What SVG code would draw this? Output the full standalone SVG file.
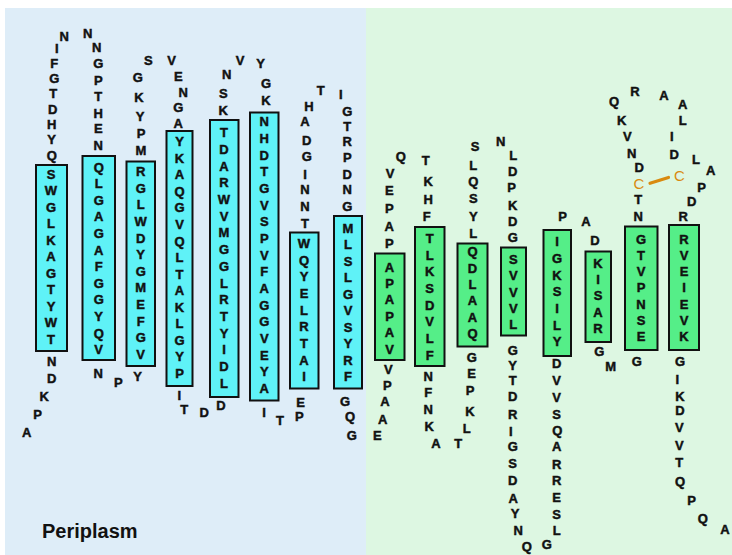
<svg xmlns="http://www.w3.org/2000/svg" width="732" height="555" viewBox="0 0 732 555">
  <style>
    .aa { font-family: "Liberation Sans", Arial, sans-serif; font-weight: bold; font-size: 13px; fill: #111; stroke: #111; stroke-width: 0.45; text-anchor: middle; dominant-baseline: central; }
    .cys { font-family: "Liberation Sans", Arial, sans-serif; font-size: 15px; fill: #d98a10; text-anchor: middle; dominant-baseline: central; }
    .tmb { fill: #5ff2f7; stroke: #111; stroke-width: 2; }
    .tmg { fill: #55ee88; stroke: #111; stroke-width: 2; }
    .label { font-family: "Liberation Sans", Arial, sans-serif; font-weight: bold; font-size: 20px; fill: #111; }
  </style>
  <rect x="0" y="0" width="732" height="555" fill="#ffffff"/>
  <rect x="5" y="8" width="361" height="547" fill="#deedf8"/>
  <rect x="366" y="8" width="366" height="547" fill="#ddf7e2"/>

  <!-- transmembrane helices -->
  <g id="tm1">
    <rect class="tmb" x="36" y="165" width="31" height="186"/>
    <text class="aa" x="51" y="174">S</text><text class="aa" x="51" y="190.5">W</text><text class="aa" x="51" y="207">G</text><text class="aa" x="51" y="223.5">L</text><text class="aa" x="51" y="240">K</text><text class="aa" x="51" y="256.5">A</text><text class="aa" x="51" y="273">G</text><text class="aa" x="51" y="289.5">T</text><text class="aa" x="51" y="306">Y</text><text class="aa" x="51" y="322.5">W</text><text class="aa" x="51" y="339">T</text>
  </g>
  <g id="tm2">
    <rect class="tmb" x="82.5" y="156" width="32.5" height="204"/>
    <text class="aa" x="98.7" y="167">Q</text><text class="aa" x="98.7" y="183.6">L</text><text class="aa" x="98.7" y="200.2">G</text><text class="aa" x="98.7" y="216.8">A</text><text class="aa" x="98.7" y="233.4">G</text><text class="aa" x="98.7" y="250">A</text><text class="aa" x="98.7" y="266.6">F</text><text class="aa" x="98.7" y="283.2">G</text><text class="aa" x="98.7" y="299.8">G</text><text class="aa" x="98.7" y="316.4">Y</text><text class="aa" x="98.7" y="333">Q</text><text class="aa" x="98.7" y="349.6">V</text>
  </g>
  <g id="tm3">
    <rect class="tmb" x="126.5" y="161.5" width="28.5" height="204.5"/>
    <text class="aa" x="140.7" y="171.7">R</text><text class="aa" x="140.7" y="188.3">G</text><text class="aa" x="140.7" y="204.9">L</text><text class="aa" x="140.7" y="221.5">W</text><text class="aa" x="140.7" y="238.1">D</text><text class="aa" x="140.7" y="254.7">Y</text><text class="aa" x="140.7" y="271.3">G</text><text class="aa" x="140.7" y="287.9">M</text><text class="aa" x="140.7" y="304.5">E</text><text class="aa" x="140.7" y="321.1">F</text><text class="aa" x="140.7" y="337.7">G</text><text class="aa" x="140.7" y="354.3">V</text>
  </g>
  <g id="tm4">
    <rect class="tmb" x="166.5" y="131" width="26" height="255"/>
    <text class="aa" x="179.5" y="141.7">Y</text><text class="aa" x="179.5" y="158.2">K</text><text class="aa" x="179.5" y="174.8">A</text><text class="aa" x="179.5" y="191.3">Q</text><text class="aa" x="179.5" y="207.9">G</text><text class="aa" x="179.5" y="224.4">V</text><text class="aa" x="179.5" y="241">Q</text><text class="aa" x="179.5" y="257.5">L</text><text class="aa" x="179.5" y="274.1">T</text><text class="aa" x="179.5" y="290.6">A</text><text class="aa" x="179.5" y="307.2">K</text><text class="aa" x="179.5" y="323.7">L</text><text class="aa" x="179.5" y="340.3">G</text><text class="aa" x="179.5" y="356.8">Y</text><text class="aa" x="179.5" y="373.4">P</text>
  </g>
  <g id="tm5">
    <rect class="tmb" x="210" y="120" width="28.5" height="277"/>
    <text class="aa" x="224" y="132.7">T</text><text class="aa" x="224" y="149.4">D</text><text class="aa" x="224" y="166.1">A</text><text class="aa" x="224" y="182.8">R</text><text class="aa" x="224" y="199.5">W</text><text class="aa" x="224" y="216.2">V</text><text class="aa" x="224" y="232.9">M</text><text class="aa" x="224" y="249.6">G</text><text class="aa" x="224" y="266.3">G</text><text class="aa" x="224" y="283">L</text><text class="aa" x="224" y="299.7">R</text><text class="aa" x="224" y="316.4">T</text><text class="aa" x="224" y="333.1">Y</text><text class="aa" x="224" y="349.8">I</text><text class="aa" x="224" y="366.5">D</text><text class="aa" x="224" y="383.2">L</text>
  </g>
  <g id="tm6">
    <rect class="tmb" x="250" y="112.5" width="28.5" height="288"/>
    <text class="aa" x="264.3" y="121.7">N</text><text class="aa" x="264.3" y="138.4">H</text><text class="aa" x="264.3" y="155">D</text><text class="aa" x="264.3" y="171.7">T</text><text class="aa" x="264.3" y="188.4">G</text><text class="aa" x="264.3" y="205">V</text><text class="aa" x="264.3" y="221.7">S</text><text class="aa" x="264.3" y="238.4">P</text><text class="aa" x="264.3" y="255">V</text><text class="aa" x="264.3" y="271.7">F</text><text class="aa" x="264.3" y="288.4">A</text><text class="aa" x="264.3" y="305">G</text><text class="aa" x="264.3" y="321.7">G</text><text class="aa" x="264.3" y="338.4">V</text><text class="aa" x="264.3" y="355">E</text><text class="aa" x="264.3" y="371.7">Y</text><text class="aa" x="264.3" y="388.4">A</text>
  </g>
  <g id="tm7">
    <rect class="tmb" x="290" y="232.5" width="28.5" height="156"/>
    <text class="aa" x="304" y="243.3">W</text><text class="aa" x="304" y="260">Q</text><text class="aa" x="304" y="276.7">Y</text><text class="aa" x="304" y="293.4">E</text><text class="aa" x="304" y="310.1">L</text><text class="aa" x="304" y="326.8">R</text><text class="aa" x="304" y="343.5">T</text><text class="aa" x="304" y="360.2">A</text><text class="aa" x="304" y="376.9">I</text>
  </g>
  <g id="tm8">
    <rect class="tmb" x="334" y="216" width="28" height="172.5"/>
    <text class="aa" x="348" y="228.3">M</text><text class="aa" x="348" y="244.8">L</text><text class="aa" x="348" y="261.3">S</text><text class="aa" x="348" y="277.8">L</text><text class="aa" x="348" y="294.3">G</text><text class="aa" x="348" y="310.8">V</text><text class="aa" x="348" y="327.3">S</text><text class="aa" x="348" y="343.8">Y</text><text class="aa" x="348" y="360.3">R</text><text class="aa" x="348" y="376.8">F</text>
  </g>
  <g id="tm9">
    <rect class="tmg" x="375" y="253.5" width="29.5" height="106.5"/>
    <text class="aa" x="389.5" y="267">A</text><text class="aa" x="389.5" y="283.4">P</text><text class="aa" x="389.5" y="299.8">A</text><text class="aa" x="389.5" y="316.2">P</text><text class="aa" x="389.5" y="332.6">A</text><text class="aa" x="389.5" y="349">V</text>
  </g>
  <g id="tm10">
    <rect class="tmg" x="415" y="227" width="29.5" height="139"/>
    <text class="aa" x="429.7" y="238.3">T</text><text class="aa" x="429.7" y="255">L</text><text class="aa" x="429.7" y="271.7">K</text><text class="aa" x="429.7" y="288.4">S</text><text class="aa" x="429.7" y="305.1">D</text><text class="aa" x="429.7" y="321.8">V</text><text class="aa" x="429.7" y="338.5">L</text><text class="aa" x="429.7" y="355.2">F</text>
  </g>
  <g id="tm11">
    <rect class="tmg" x="457.5" y="243.5" width="30" height="103"/>
    <text class="aa" x="472.5" y="251.7">Q</text><text class="aa" x="472.5" y="268.1">D</text><text class="aa" x="472.5" y="284.5">L</text><text class="aa" x="472.5" y="300.9">A</text><text class="aa" x="472.5" y="317.3">A</text><text class="aa" x="472.5" y="333.7">Q</text>
  </g>
  <g id="tm12">
    <rect class="tmg" x="501" y="247.5" width="25" height="88"/>
    <text class="aa" x="513.3" y="259.3">S</text><text class="aa" x="513.3" y="275.7">V</text><text class="aa" x="513.3" y="292.1">V</text><text class="aa" x="513.3" y="308.5">V</text><text class="aa" x="513.3" y="324.9">L</text>
  </g>
  <g id="tm13">
    <rect class="tmg" x="543.5" y="230" width="27.5" height="126"/>
    <text class="aa" x="557" y="241.7">I</text><text class="aa" x="557" y="258.4">G</text><text class="aa" x="557" y="275">K</text><text class="aa" x="557" y="291.7">S</text><text class="aa" x="557" y="308.4">I</text><text class="aa" x="557" y="325">L</text><text class="aa" x="557" y="341.7">Y</text>
  </g>
  <g id="tm14">
    <rect class="tmg" x="585.5" y="251.5" width="25.5" height="90.5"/>
    <text class="aa" x="598" y="263.3">K</text><text class="aa" x="598" y="279.5">I</text><text class="aa" x="598" y="295.8">S</text><text class="aa" x="598" y="312">A</text><text class="aa" x="598" y="328.3">R</text>
  </g>
  <g id="tm15">
    <rect class="tmg" x="625" y="226.5" width="32.5" height="123.5"/>
    <text class="aa" x="641" y="239.3">G</text><text class="aa" x="641" y="255.5">T</text><text class="aa" x="641" y="271.7">V</text><text class="aa" x="641" y="287.9">P</text><text class="aa" x="641" y="304.1">N</text><text class="aa" x="641" y="320.3">S</text><text class="aa" x="641" y="336.5">E</text>
  </g>
  <g id="tm16">
    <rect class="tmg" x="669" y="225" width="30" height="125"/>
    <text class="aa" x="684" y="239.3">R</text><text class="aa" x="684" y="255.5">V</text><text class="aa" x="684" y="271.7">E</text><text class="aa" x="684" y="287.9">I</text><text class="aa" x="684" y="304.1">E</text><text class="aa" x="684" y="320.3">V</text><text class="aa" x="684" y="336.5">K</text>
  </g>

  <!-- loops between helices -->
  <g id="nterm">
    <text class="aa" x="51.7" y="361.7">N</text><text class="aa" x="51.7" y="378.3">D</text><text class="aa" x="44.3" y="396.7">K</text><text class="aa" x="37.7" y="414">P</text><text class="aa" x="26.7" y="432.3">A</text>
  </g>
  <g id="loop1">
    <text class="aa" x="51.7" y="155">Q</text><text class="aa" x="51.5" y="139.7">Y</text><text class="aa" x="51.7" y="124.4">H</text><text class="aa" x="52.7" y="109">D</text><text class="aa" x="53.3" y="93.8">T</text><text class="aa" x="54.3" y="78.5">G</text><text class="aa" x="54.3" y="63.2">F</text><text class="aa" x="56.7" y="48">I</text><text class="aa" x="64.3" y="36">N</text>
    <text class="aa" x="87.7" y="33">N</text><text class="aa" x="96.7" y="47.3">N</text><text class="aa" x="98.3" y="63.3">G</text><text class="aa" x="98.3" y="80">P</text><text class="aa" x="98.3" y="96">T</text><text class="aa" x="98.3" y="113">H</text><text class="aa" x="98.3" y="128.5">E</text><text class="aa" x="98.3" y="145">N</text>
  </g>
  <g id="loop2">
    <text class="aa" x="98.3" y="373.3">N</text><text class="aa" x="118.3" y="382.7">P</text><text class="aa" x="137.7" y="376.7">Y</text>
  </g>
  <g id="loop3">
    <text class="aa" x="141" y="150.7">M</text><text class="aa" x="141" y="133.3">P</text><text class="aa" x="140" y="116.2">Y</text><text class="aa" x="139" y="97.5">K</text><text class="aa" x="137.7" y="77">G</text><text class="aa" x="148.3" y="60">S</text>
    <text class="aa" x="171.7" y="60">V</text><text class="aa" x="178.3" y="76.7">E</text><text class="aa" x="183.3" y="92.7">N</text><text class="aa" x="178.3" y="107.3">G</text><text class="aa" x="178.3" y="123.3">A</text>
  </g>
  <g id="loop4">
    <text class="aa" x="179.3" y="395">I</text><text class="aa" x="184.3" y="409.3">T</text><text class="aa" x="204.3" y="412.7">D</text><text class="aa" x="221" y="405">D</text>
  </g>
  <g id="loop5">
    <text class="aa" x="223.3" y="110">K</text><text class="aa" x="223.3" y="93.3">S</text><text class="aa" x="226.7" y="74">N</text><text class="aa" x="240" y="60.7">V</text>
    <text class="aa" x="260.7" y="63.3">Y</text><text class="aa" x="266" y="83.3">G</text><text class="aa" x="266" y="100.7">K</text>
  </g>
  <g id="loop6">
    <text class="aa" x="264" y="412.7">I</text><text class="aa" x="280" y="420">T</text><text class="aa" x="299.3" y="416.7">P</text><text class="aa" x="300.7" y="402.3">E</text>
  </g>
  <g id="loop7">
    <text class="aa" x="305" y="223.3">T</text><text class="aa" x="305" y="206.7">N</text><text class="aa" x="305" y="189.3">N</text><text class="aa" x="305" y="174">I</text><text class="aa" x="306.7" y="156.7">G</text><text class="aa" x="306.7" y="140">D</text><text class="aa" x="305" y="121.7">A</text><text class="aa" x="309" y="106.7">H</text><text class="aa" x="320.7" y="90">T</text>
    <text class="aa" x="340.7" y="94">I</text><text class="aa" x="347.3" y="111.7">G</text><text class="aa" x="347.3" y="126.7">T</text><text class="aa" x="347.3" y="141.7">R</text><text class="aa" x="347.3" y="157.3">P</text><text class="aa" x="347.3" y="174">D</text><text class="aa" x="347.3" y="189.3">N</text><text class="aa" x="347.3" y="206.7">G</text>
  </g>
  <g id="loop8">
    <text class="aa" x="345" y="401.7">G</text><text class="aa" x="350" y="416.7">Q</text><text class="aa" x="351.7" y="435">G</text>
    <text class="aa" x="377.3" y="435">E</text><text class="aa" x="382.7" y="419.3">A</text><text class="aa" x="385" y="401.7">A</text><text class="aa" x="387.3" y="385">P</text><text class="aa" x="388.3" y="369.3">V</text>
  </g>
  <g id="loop9">
    <text class="aa" x="389.3" y="243.3">P</text><text class="aa" x="389.3" y="226.7">A</text><text class="aa" x="389.3" y="208.3">P</text><text class="aa" x="389.3" y="190">E</text><text class="aa" x="390" y="173.3">V</text><text class="aa" x="400.7" y="156.7">Q</text>
    <text class="aa" x="425.7" y="160.7">T</text><text class="aa" x="428.3" y="181.7">K</text><text class="aa" x="428.3" y="199.3">H</text><text class="aa" x="426.7" y="216.7">F</text>
  </g>
  <g id="loop10">
    <text class="aa" x="428.3" y="376.7">N</text><text class="aa" x="428.3" y="392.7">F</text><text class="aa" x="428.3" y="409.3">N</text><text class="aa" x="429.3" y="426.7">K</text><text class="aa" x="436" y="443.3">A</text>
    <text class="aa" x="458.3" y="443.3">T</text><text class="aa" x="466.7" y="428.3">L</text><text class="aa" x="470" y="411.7">K</text><text class="aa" x="470" y="390.7">P</text><text class="aa" x="471.7" y="373.3">E</text><text class="aa" x="471.7" y="357.3">G</text>
  </g>
  <g id="loop11">
    <text class="aa" x="473.3" y="233.3">L</text><text class="aa" x="473.3" y="216.7">Y</text><text class="aa" x="473.3" y="198.3">S</text><text class="aa" x="473.3" y="181.7">Q</text><text class="aa" x="473.3" y="165">L</text><text class="aa" x="475" y="146.7">S</text>
    <text class="aa" x="500.7" y="141.7">N</text><text class="aa" x="513.3" y="155">L</text><text class="aa" x="512.7" y="171.7">D</text><text class="aa" x="511.7" y="187.3">P</text><text class="aa" x="512.7" y="205">K</text><text class="aa" x="512.7" y="221.7">D</text><text class="aa" x="512.7" y="237.3">G</text>
  </g>
  <g id="loop12">
    <text class="aa" x="512.7" y="350">G</text><text class="aa" x="512.7" y="365">Y</text><text class="aa" x="512.7" y="380">T</text><text class="aa" x="512.7" y="396.7">D</text><text class="aa" x="512.7" y="414">R</text><text class="aa" x="510.7" y="431.7">I</text><text class="aa" x="512.7" y="446.7">G</text><text class="aa" x="512.7" y="463.3">S</text><text class="aa" x="512.7" y="480.7">D</text><text class="aa" x="513.3" y="498.3">A</text><text class="aa" x="515" y="513.3">Y</text><text class="aa" x="518.3" y="530">N</text><text class="aa" x="526.7" y="546.7">Q</text>
    <text class="aa" x="546.7" y="544">G</text><text class="aa" x="556.7" y="530">L</text><text class="aa" x="556.7" y="514">S</text><text class="aa" x="556.7" y="497.3">E</text><text class="aa" x="556.7" y="480">R</text><text class="aa" x="556.7" y="464">R</text><text class="aa" x="556.7" y="446.7">A</text><text class="aa" x="557.3" y="430.7">Q</text><text class="aa" x="556.7" y="414">S</text><text class="aa" x="556.7" y="397.3">V</text><text class="aa" x="556.7" y="380">V</text><text class="aa" x="556.7" y="363.3">D</text>
  </g>
  <g id="loop13">
    <text class="aa" x="562.7" y="216.7">P</text><text class="aa" x="586" y="221.7">A</text><text class="aa" x="595" y="240">D</text>
  </g>
  <g id="loop14">
    <text class="aa" x="599.3" y="351.7">G</text><text class="aa" x="610.7" y="366.7">M</text><text class="aa" x="636.7" y="361.7">G</text>
  </g>
  <g id="loop15">
    <text class="aa" x="638.3" y="216">N</text><text class="aa" x="638.3" y="199.5">T</text><text class="cys" x="639" y="183.5">C</text><text class="aa" x="639.3" y="167.3">D</text><text class="aa" x="631.7" y="153.3">N</text><text class="aa" x="627.3" y="136.7">V</text><text class="aa" x="621.7" y="120">K</text><text class="aa" x="614" y="101.7">Q</text><text class="aa" x="635" y="91.7">R</text>
    <text class="aa" x="664" y="95">A</text><text class="aa" x="682.7" y="104">A</text><text class="aa" x="682.7" y="120.7">L</text><text class="aa" x="671.7" y="136.7">I</text><text class="aa" x="674.3" y="154">D</text><text class="cys" x="679.3" y="175">C</text><text class="aa" x="696" y="159.3">L</text><text class="aa" x="710.7" y="170.7">A</text><text class="aa" x="701.7" y="187.3">P</text><text class="aa" x="691.7" y="201.7">D</text><text class="aa" x="683.3" y="216">R</text>
  </g>
  <g id="cterm">
    <text class="aa" x="680" y="361.7">G</text><text class="aa" x="677.3" y="379.3">I</text><text class="aa" x="680" y="396">K</text><text class="aa" x="680" y="410.7">D</text><text class="aa" x="679.3" y="427.3">V</text><text class="aa" x="679.3" y="445">V</text><text class="aa" x="679.3" y="462.7">T</text><text class="aa" x="680" y="481.7">Q</text><text class="aa" x="691.7" y="500">P</text><text class="aa" x="702.7" y="518.3">Q</text><text class="aa" x="725" y="529.3">A</text>
  </g>

  <!-- disulfide bond -->
  <g id="connectors">
    <line x1="650" y1="183.3" x2="668.5" y2="177.5" stroke="#d98a10" stroke-width="3.2" stroke-linecap="round"/>
  </g>

  <text class="label" x="42" y="538">Periplasm</text>
</svg>
